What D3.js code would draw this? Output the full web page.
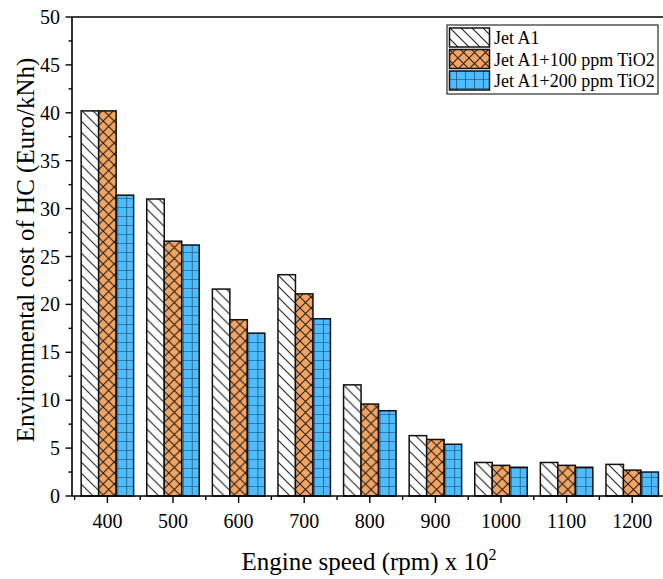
<!DOCTYPE html>
<html>
<head>
<meta charset="utf-8">
<script src="https://cdn.jsdelivr.net/npm/d3@7"></script>
<style>
  body { margin: 0; background: #fff; }
  text { font-family: "Liberation Serif", "Times New Roman", serif; fill: #000; }
</style>
</head>
<body>
<svg id="chart" width="663" height="579"></svg>
<script>
// data
var speeds = ["400", "500", "600", "700", "800", "900", "1000", "1100", "1200"];
var seriesNames = ["Jet A1", "Jet A1+100 ppm TiO2", "Jet A1+200 ppm TiO2"];
var jetA1   = [40.2, 31.0, 21.6, 23.1, 11.6, 6.3, 3.5, 3.5, 3.3];
var tio2100 = [40.2, 26.6, 18.4, 21.1, 9.6, 5.9, 3.2, 3.2, 2.7];
var tio2200 = [31.4, 26.2, 17.0, 18.5, 8.9, 5.4, 3.0, 3.0, 2.5];
var yTicks = [0, 5, 10, 15, 20, 25, 30, 35, 40, 45, 50];

var series = [jetA1, tio2100, tio2200];
var fills = ["url(#hatchDiag)", "url(#hatchCross)", "url(#hatchGrid)"];

var margin = {top: 17, left: 72};
var svg = d3.select("#chart");

var x = d3.scaleBand()
    .domain(speeds)
    .range([74.6, 665])
    .paddingInner(0.2)
    .paddingOuter(0.1);
var x1 = d3.scaleBand()
    .domain(d3.range(series.length))
    .range([0, x.bandwidth()]);
var y = d3.scaleLinear()
    .domain([0, 50])
    .range([496, margin.top]);

// patterns
var defs = svg.append("defs");
var p1 = defs.append("pattern").attr("id", "hatchDiag")
    .attr("patternUnits", "userSpaceOnUse").attr("width", 11).attr("height", 11);
p1.append("rect").attr("width", 11).attr("height", 11).attr("fill", "#fff");
p1.append("path").attr("d", "M-1,-1L12,12M-1,10L1,12M10,-1L12,1")
    .attr("stroke", "#222").attr("stroke-width", 1.1);

var p2 = defs.append("pattern").attr("id", "hatchCross")
    .attr("patternUnits", "userSpaceOnUse").attr("width", 11).attr("height", 11);
p2.append("rect").attr("width", 11).attr("height", 11).attr("fill", "#F4A460");
p2.append("path").attr("d", "M0,0L11,11M11,0L0,11")
    .attr("stroke", "#222").attr("stroke-width", 1.1);

var p3 = defs.append("pattern").attr("id", "hatchGrid")
    .attr("patternUnits", "userSpaceOnUse").attr("width", 9).attr("height", 9);
p3.append("rect").attr("width", 9).attr("height", 9).attr("fill", "#4DBDFF");
p3.append("path").attr("d", "M0,0L9,0M0,0L0,9")
    .attr("stroke", "#1a3550").attr("stroke-width", 1.2);

// bars
var groups = svg.append("g").selectAll("g")
    .data(speeds)
    .enter().append("g")
    .attr("transform", function(d){ return "translate(" + x(d) + ",0)"; });

groups.selectAll("rect")
    .data(function(d, i){ return series.map(function(s, k){ return {k: k, v: s[i]}; }); })
    .enter().append("rect")
    .attr("x", function(d){ return x1(d.k); })
    .attr("width", x1.bandwidth())
    .attr("y", function(d){ return y(d.v); })
    .attr("height", function(d){ return y(0) - y(d.v); })
    .attr("fill", function(d){ return fills[d.k]; })
    .attr("stroke", "#111")
    .attr("stroke-width", 1.5);

// axes
var yAxis = svg.append("g").attr("transform", "translate(" + margin.left + ",0)");
yAxis.append("line").attr("x1", 0).attr("x2", 0).attr("y1", y(50)).attr("y2", y(0))
    .attr("stroke", "#000").attr("stroke-width", 1.6);
yAxis.selectAll(".minor").data(d3.range(2.5, 50, 5)).enter().append("line")
    .attr("x1", -3.5).attr("x2", 0).attr("y1", function(d){ return y(d); }).attr("y2", function(d){ return y(d); })
    .attr("stroke", "#000").attr("stroke-width", 1.4);
yAxis.selectAll(".major").data(yTicks).enter().append("line")
    .attr("x1", -6.5).attr("x2", 0).attr("y1", function(d){ return y(d); }).attr("y2", function(d){ return y(d); })
    .attr("stroke", "#000").attr("stroke-width", 1.4);
yAxis.selectAll(".lbl").data(yTicks).enter().append("text")
    .attr("x", -12).attr("y", function(d){ return y(d) + 7; })
    .attr("text-anchor", "end").attr("font-size", "20px")
    .text(function(d){ return d; });

// top frame line
svg.append("line").attr("x1", margin.left).attr("x2", 663).attr("y1", y(50)).attr("y2", y(50))
    .attr("stroke", "#000").attr("stroke-width", 1.6);

var xAxis = svg.append("g");
xAxis.append("line").attr("x1", margin.left).attr("x2", 663).attr("y1", y(0)).attr("y2", y(0))
    .attr("stroke", "#000").attr("stroke-width", 1.6);
xAxis.selectAll(".major").data(speeds).enter().append("line")
    .attr("x1", function(d){ return x(d) + x.bandwidth()/2; })
    .attr("x2", function(d){ return x(d) + x.bandwidth()/2; })
    .attr("y1", y(0)).attr("y2", y(0) + 7)
    .attr("stroke", "#000").attr("stroke-width", 1.4);
xAxis.selectAll(".minor").data(speeds).enter().append("line")
    .attr("x1", function(d){ return x(d) - x.step()*x.paddingInner()/2; })
    .attr("x2", function(d){ return x(d) - x.step()*x.paddingInner()/2; })
    .attr("y1", y(0)).attr("y2", y(0) + 4)
    .attr("stroke", "#000").attr("stroke-width", 1.4);
xAxis.selectAll(".lbl").data(speeds).enter().append("text")
    .attr("x", function(d){ return x(d) + x.bandwidth()/2; })
    .attr("y", 528)
    .attr("text-anchor", "middle").attr("font-size", "20px")
    .text(function(d){ return d; });

// axis titles
svg.append("text")
    .attr("transform", "translate(34,250) rotate(-90)")
    .attr("text-anchor", "middle").attr("font-size", "25px")
    .text("Environmental cost of HC (Euro/kNh)");

var xt = svg.append("text")
    .attr("x", 369).attr("y", 570)
    .attr("text-anchor", "middle").attr("font-size", "25px");
xt.append("tspan").text("Engine speed (rpm) x 10");
xt.append("tspan").attr("dy", -10).attr("font-size", "16px").text("2");

// legend
var leg = svg.append("g").attr("transform", "translate(447,25)");
leg.append("rect").attr("width", 211).attr("height", 69)
    .attr("fill", "#fff").attr("stroke", "#000").attr("stroke-width", 1);
seriesNames.forEach(function(name, i){
  leg.append("rect")
      .attr("x", 2.5).attr("y", 3 + i*21.5)
      .attr("width", 40).attr("height", 19)
      .attr("fill", fills[i]).attr("stroke", "#111").attr("stroke-width", 1.5);
  leg.append("text")
      .attr("x", 47).attr("y", 19 + i*21.5)
      .attr("font-size", "18px")
      .text(name);
});
</script>
</body>
</html>
